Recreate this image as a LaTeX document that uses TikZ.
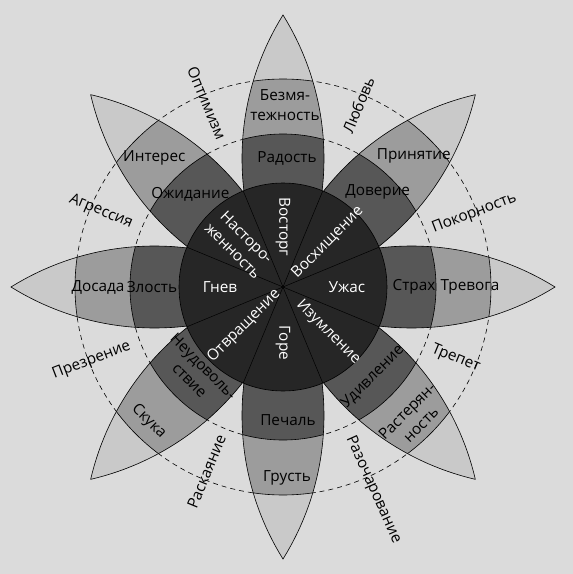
\documentclass[tikz,border=0pt]{standalone}
\usepackage{fontspec}
\setmainfont{Open Sans}
\usetikzlibrary{calc}
\definecolor{bgc}{gray}{0.86}
\definecolor{tipc}{gray}{0.79}
\definecolor{midc}{gray}{0.61}
\definecolor{darkc}{gray}{0.34}
\definecolor{corec}{gray}{0.15}
\tikzset{
  lbl/.style={font=\fontsize{15.3}{19.5}\selectfont, text=black, inner sep=0pt, align=center},
  corelbl/.style={font=\fontsize{15.3}{19.5}\selectfont, text=white, inner sep=0pt, align=center},
  dyad/.style={font=\fontsize{15.3}{19.5}\selectfont, text=black, inner sep=0pt},
  guide/.style={draw=black, line width=0.6pt, dash pattern=on 5pt off 4pt},
  edge/.style={draw=black, line width=0.6pt}
}
\begin{document}
\begin{tikzpicture}[x=1pt,y=1pt]
\fill[bgc] (-283,-287) rectangle (290,287);
\useasboundingbox (-283,-287) rectangle (290,287);
% dashed guide circles
\draw[guide] (0,0) circle (208);
\draw[guide] (0,0) circle (153);
% petals
\foreach \a in {0,45,...,315} {
  \begin{scope}[rotate=\a]
    \begin{scope}
      \clip (272,0) arc[start angle=58.1, end angle=121.9, radius=271.5]
                    arc[start angle=-121.9, end angle=-58.1, radius=271.5] -- cycle;
      \fill[tipc] (-20,-60) rectangle (280,60);
      \fill[midc] (0,0) circle (208);
      \fill[darkc] (0,0) circle (153);
      \draw[edge] (0,0) circle (208);
      \draw[edge] (0,0) circle (153);
    \end{scope}
    \draw[edge] (272,0) arc[start angle=58.1, end angle=121.9, radius=271.5]
                        arc[start angle=-121.9, end angle=-58.1, radius=271.5] -- cycle;
  \end{scope}
}
% core
\fill[corec] (0,0) circle (104);
\draw[edge] (0,0) circle (104);
\coordinate (c) at (0,0);
\foreach \a [count=\i] in {22.5,67.5,...,337.5} {
  \coordinate (s\i) at (\a:104);
  \draw[black, line width=0.5pt] (c) -- (s\i);
}
% core labels
\node[corelbl, rotate=-90] (vostorg) at (90:60) {Восторг};
\node[corelbl, rotate=45] (voshish) at (45:63) {Восхищение};
\node[corelbl] (uzhas) at (0:64) {Ужас};
\node[corelbl, rotate=-45] (izuml) at (-45:64) {Изумление};
\node[corelbl, rotate=-90] (gore) at (-90:56) {Горе};
\node[corelbl, rotate=45] (otvr) at (-135:55) {Отвращение};
\node[corelbl] (gnev) at (180:63) {Гнев};
\node[corelbl, rotate=-45] (nastor) at (135:61) {Насторо-\\женность};
% middle ring labels
\node[lbl] (radost) at ($(90:129)+(4,0)$) {Радость};
\node[lbl] (doverie) at (45:134) {Доверие};
\node[lbl] (strah) at (0:131) {Страх};
\node[lbl, rotate=45] (udivl) at (-45:127) {Удивление};
\node[lbl] (pechal) at ($(-90:133)+(5,0)$) {Печаль};
\node[lbl, rotate=-45] (neudov) at (-135:122) {Неудоволь-\\ствие};
\node[lbl] (zlost) at (180:131) {Злость};
\node[lbl] (ozhid) at (135:131) {Ожидание};
% outer ring labels
\node[lbl] (bezm) at ($(90:182)+(2,0)$) {Безмя-\\тежность};
\node[lbl] (prin) at (45:185) {Принятие};
\node[lbl] (trevoga) at (0:187) {Тревога};
\node[lbl, rotate=45] (rast) at (-45:185) {Растерян-\\ность};
\node[lbl] (grust) at ($(-90:191)+(4,0)$) {Грусть};
\node[lbl, rotate=-45] (skuka) at (-135:190) {Скука};
\node[lbl] (dosada) at (180:185) {Досада};
\node[lbl] (interes) at (135:182) {Интерес};
% dyads
\node[dyad, rotate=-67.5] (optim) at (112.5:199) {Оптимизм};
\node[dyad, rotate=67.5] (lubov) at (67.5:197) {Любовь};
\node[dyad, rotate=21] (pokorn) at (21:205) {Покорность};
\node[dyad, rotate=-22.5] (trepet) at (-22.5:187) {Трепет};
\node[dyad, rotate=-66] (razoch) at (-66:222) {Разочарование};
\node[dyad, rotate=67.5] (raskay) at (-112.5:200) {Раскаяние};
\node[dyad, rotate=21] (prezr) at (-159:205) {Презрение};
\node[dyad, rotate=-22.5] (agress) at (157.5:197) {Агрессия};
\end{tikzpicture}
\end{document}
